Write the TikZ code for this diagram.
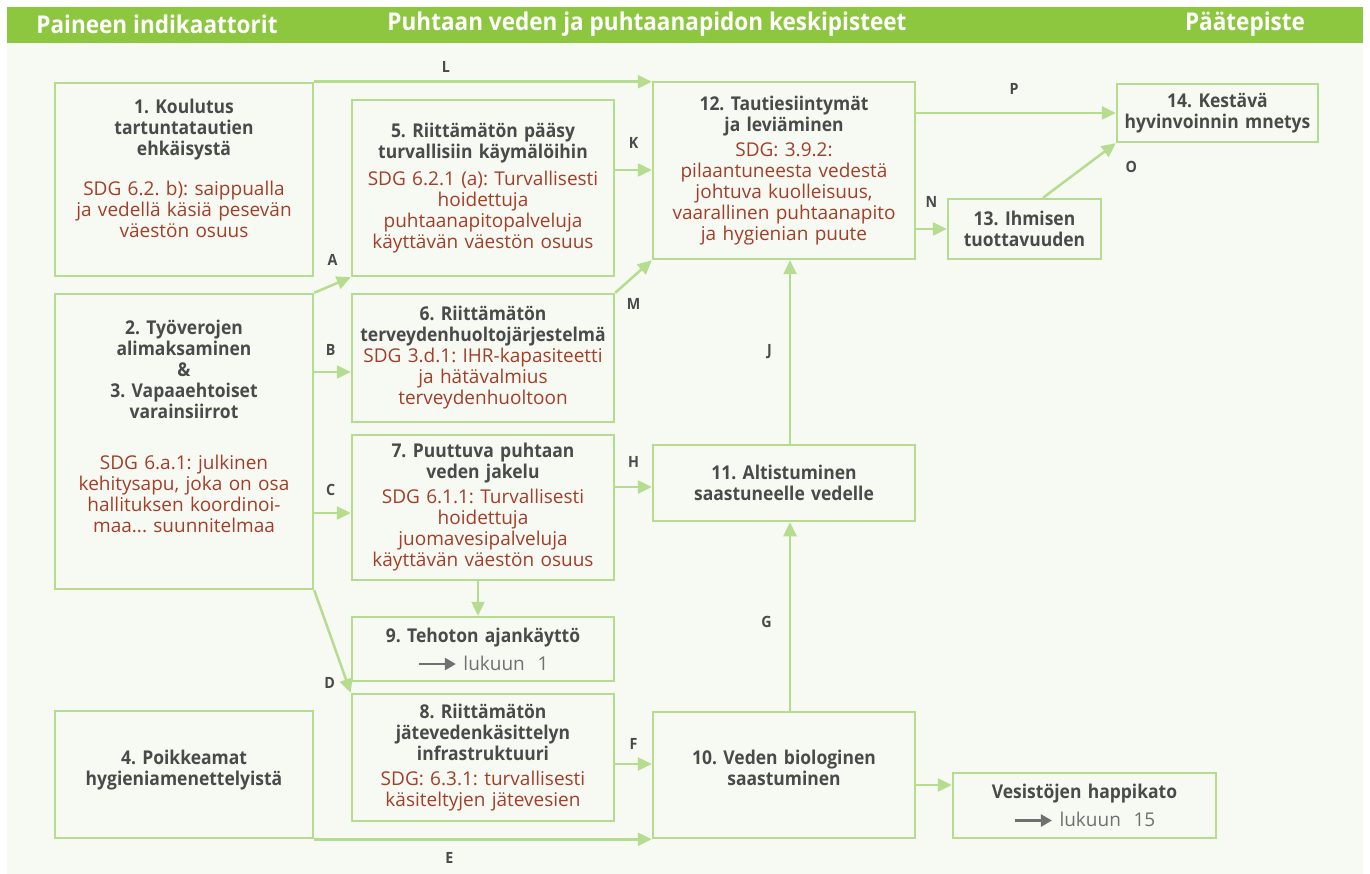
\documentclass[tikz,border=0pt]{standalone}
\usepackage{fontspec}
\setmainfont{Open Sans}[BoldFeatures={FakeStretch=0.92}]
\usetikzlibrary{arrows.meta,positioning,calc}

\definecolor{headgreen}{HTML}{8DC63F}
\definecolor{panelbg}{HTML}{F7FAF2}
\definecolor{boxline}{HTML}{B5DC8F}
\definecolor{titlegray}{HTML}{4A4A4A}
\definecolor{sdgred}{HTML}{A23E2A}
\definecolor{tipgray}{HTML}{707070}

\tikzset{
  box/.style={draw=boxline, line width=2.5pt, fill=panelbg, align=center,
    inner sep=2pt, text=titlegray, font=\fontsize{19}{21}\selectfont},
  link/.style={draw=boxline, line width=2.5pt, -{Triangle[length=14pt,width=13pt]}},
  lbl/.style={font=\fontsize{15.5}{17}\selectfont\bfseries, text=titlegray, inner sep=1pt},
  head/.style={font=\fontsize{24.5}{28}\selectfont\bfseries, text=white},
}
\newcommand{\luku}[1]{{\color{tipgray}\mdseries\tikz[baseline=-0.6ex]\draw[tipgray, line width=2.5pt,
  -{Triangle[length=11pt,width=12pt]}] (0pt,0pt) -- (37pt,0pt);~lukuun~~#1}}
\frenchspacing

\begin{document}
\begin{tikzpicture}[x=1pt,y=-1pt]
  \useasboundingbox (0,0) rectangle (1370,874);
  \fill[white] (0,0) rectangle (1370,874);
  % panel and header bar
  \fill[panelbg] (7,43) rectangle (1363,874);
  \fill[headgreen] (7,7) rectangle (1363,43);
  \node[head] (h1) at (157,24) {Paineen indikaattorit};
  \node[head] (h2) at (647,24) {Puhtaan veden ja puhtaanapidon keskipisteet};
  \node[head] (h3) at (1245,24) {Päätepiste};

  % pressure indicators
  \node[box, minimum width=258pt, minimum height=193pt, text width=250pt] (k1) at (184,179.5)
    {{\bfseries 1. Koulutus\\tartuntatautien\\ehkäisystä}\\[19pt]
     {\color{sdgred}SDG 6.2. b): saippualla\\ja vedellä käsiä pesevän\\väestön osuus}\\[1pt]\mbox{}};
  \node[box, minimum width=258pt, minimum height=295pt, text width=250pt] (k2) at (184,441.5)
    {{\bfseries 2. Työverojen\\alimaksaminen\\\&\\3. Vapaaehtoiset\\varainsiirrot}\\[30pt]
     {\color{sdgred}SDG 6.a.1: julkinen\\kehitysapu, joka on osa\\hallituksen koordinoi-\\maa... suunnitelmaa}\\[9pt]\mbox{}};
  \node[box, minimum width=258pt, minimum height=127pt, text width=250pt] (k4) at (184,774.5)
    {\bfseries 4. Poikkeamat\\hygieniamenettelyistä\\[-7pt]\mbox{}};

  % midpoints
  \node[box, minimum width=260pt, minimum height=176pt, text width=258pt] (k5) at (483,188)
    {{\bfseries 5. Riittämätön pääsy\\turvallisiin käymälöihin}\\[6pt]
     {\color{sdgred}SDG 6.2.1 (a): Turvallisesti\\hoidettuja\\puhtaanapitopalveluja\\käyttävän väestön osuus}};
  \node[box, minimum width=260pt, minimum height=128pt, text width=258pt] (k6) at (483,358)
    {{\bfseries 6. Riittämätön\\terveydenhuoltojärjestelmä}\\
     {\color{sdgred}SDG 3.d.1: IHR-kapasiteetti\\ja hätävalmius\\terveydenhuoltoon}};
  \node[box, minimum width=260pt, minimum height=145pt, text width=258pt] (k7) at (483,507.5)
    {{\bfseries 7. Puuttuva puhtaan\\veden jakelu}\\[4pt]
     {\color{sdgred}SDG 6.1.1: Turvallisesti\\hoidettuja\\juomavesipalveluja\\käyttävän väestön osuus}};
  \node[box, minimum width=260pt, minimum height=64pt, text width=258pt] (k9) at (483,649)
    {{\bfseries 9. Tehoton ajankäyttö}\\[7pt]\luku{1}};
  \node[box, minimum width=260pt, minimum height=127pt, text width=258pt] (k8) at (483,757.5)
    {{\bfseries 8. Riittämätön\\jätevedenkäsittelyn\\infrastruktuuri}\\[4pt]
     {\color{sdgred}SDG: 6.3.1: turvallisesti\\käsiteltyjen jätevesien}};
  \node[box, minimum width=262pt, minimum height=177pt, text width=256pt] (k12) at (784,170.5)
    {{\bfseries 12. Tautiesiintymät\\ja leviäminen}\\[4pt]
     {\color{sdgred}SDG: 3.9.2:\\pilaantuneesta vedestä\\johtuva kuolleisuus,\\vaarallinen puhtaanapito\\ja hygienian puute}};
  \node[box, minimum width=262pt, minimum height=76pt, text width=256pt] (k11) at (784,483)
    {\bfseries 11. Altistuminen\\saastuneelle vedelle};
  \node[box, minimum width=262pt, minimum height=126pt, text width=256pt] (k10) at (784,775)
    {\bfseries 10. Veden biologinen\\saastuminen\\[-7pt]\mbox{}};

  % end points
  \node[box, minimum width=153pt, minimum height=60pt, text width=149pt] (k13) at (1024.5,229)
    {\bfseries 13. Ihmisen\\tuottavuuden};
  \node[box, minimum width=201pt, minimum height=58pt, text width=197pt] (k14) at (1217.5,113)
    {\bfseries 14. Kestävä\\hyvinvoinnin mnetys};
  \node[box, minimum width=263pt, minimum height=65pt, text width=259pt] (kv) at (1084.5,805.5)
    {{\bfseries Vesistöjen happikato}\\[7pt]\luku{15}};

  % connectors
  \draw[link] (k1.north east) -- (k1.north east -| k12.west)
    node[lbl, pos=0.39, above=7pt] (lL) {L};
  \draw[link] (k2.north east) -- (k5.south west)
    node[lbl, midway, above=17pt] (lA) {A};
  \draw[link] ([yshift=-14pt]k6.west -| k2.east) -- ([yshift=-14pt]k6.west)
    node[lbl, pos=0.45, above=14pt] (lB) {B};
  \draw[link] ([yshift=-5.5pt]k7.west -| k2.east) -- ([yshift=-5.5pt]k7.west)
    node[lbl, pos=0.45, above=15pt] (lC) {C};
  \draw[link] (k2.south east) -- (k8.north west)
    node[lbl, pos=0.9, left=10pt] (lD) {D};
  \draw[link] (k4.south east) -- (k10.south west)
    node[lbl, pos=0.4, below=11pt] (lE) {E};
  \draw[link] ([yshift=18pt]k5.east) -- ([yshift=18pt]k5.east -| k12.west)
    node[lbl, midway, above=19pt] (lK) {K};
  \draw[link] (k6.north east) -- (k12.south west)
    node[lbl, midway, below=20pt] (lM) {M};
  \draw[link] ([yshift=-4pt]k11.west -| k7.east) -- ([yshift=-4pt]k11.west)
    node[lbl, midway, above=17pt] (lH) {H};
  \draw[link] ([xshift=-5pt]k7.south) -- ([xshift=-5pt]k9.north);
  \draw[link] ([yshift=-6.5pt]k8.east) -- ([yshift=-6.5pt]k8.east -| k10.west)
    node[lbl, midway, above=12pt] (lF) {F};
  \draw[link] ([xshift=6pt]k10.north) -- ([xshift=6pt]k11.south)
    node[lbl, pos=0.47, left=16pt] (lG) {G};
  \draw[link] ([xshift=6pt]k11.north) -- ([xshift=6pt]k12.south)
    node[lbl, pos=0.5, left=16pt] (lJ) {J};
  \draw[link] (k14.west -| k12.east) -- (k14.west)
    node[lbl, pos=0.49, above=16pt] (lP) {P};
  \draw[link] (k13.west -| k12.east) -- (k13.west)
    node[lbl, midway, above=19pt] (lN) {N};
  \draw[link] ([xshift=18.5pt]k13.north) -- (k14.south west)
    node[lbl, pos=0.65, right=33pt, yshift=-5pt] (lO) {O};
  \draw[link] ([yshift=-10pt]k10.east) -- ([yshift=-10pt]k10.east -| kv.west);
\end{tikzpicture}
\end{document}
